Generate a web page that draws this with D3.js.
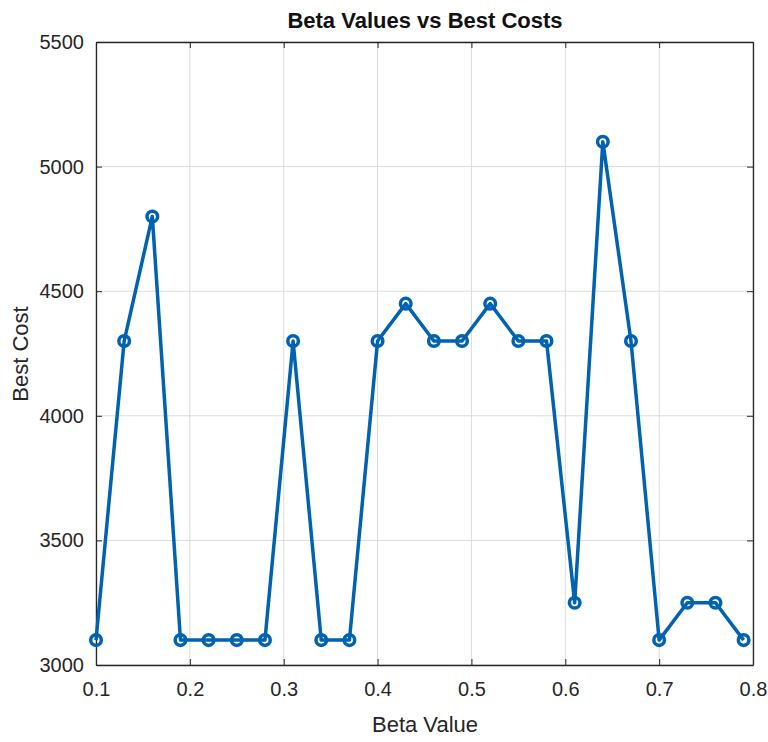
<!DOCTYPE html>
<html>
<head>
<meta charset="utf-8">
<script src="https://cdn.jsdelivr.net/npm/d3@7"></script>
<style>
  html, body { margin: 0; padding: 0; background: #fff; }
  svg { display: block; font-family: "Liberation Sans", Arial, sans-serif; }
</style>
</head>
<body>
<svg id="chart" width="768" height="742"></svg>
<script>
// Beta values and the best cost found at each one
const betaValues = [0.10, 0.13, 0.16, 0.19, 0.22, 0.25, 0.28, 0.31, 0.34, 0.37, 0.40, 0.43,
                    0.46, 0.49, 0.52, 0.55, 0.58, 0.61, 0.64, 0.67, 0.70, 0.73, 0.76, 0.79];
const bestCosts = [3100, 4300, 4800, 3100, 3100, 3100, 3100, 4300, 3100, 3100, 4300, 4450,
                   4300, 4300, 4450, 4300, 4300, 3250, 5100, 4300, 3100, 3250, 3250, 3100];
const xTicks = [0.1, 0.2, 0.3, 0.4, 0.5, 0.6, 0.7, 0.8];
const yTicks = [3000, 3500, 4000, 4500, 5000, 5500];

const svg = d3.select("#chart");
const margin = { left: 96, right: 15, top: 42, bottom: 77 };
const W = 768, H = 742;
const x = d3.scaleLinear().domain([0.1, 0.8]).range([margin.left, W - margin.right]);
const y = d3.scaleLinear().domain([3000, 5500]).range([H - margin.bottom, margin.top]);
const textColor = "#262626";

// grid
const grid = svg.append("g");
grid.selectAll("line.gx").data(xTicks).join("line")
  .attr("x1", d => x(d)).attr("x2", d => x(d))
  .attr("y1", y(3000)).attr("y2", y(5500))
  .attr("stroke", "#dcdcdc").attr("stroke-width", 1);
grid.selectAll("line.gy").data(yTicks).join("line")
  .attr("y1", d => y(d)).attr("y2", d => y(d))
  .attr("x1", x(0.1)).attr("x2", x(0.8))
  .attr("stroke", "#dcdcdc").attr("stroke-width", 1);

// axes (ticks point inward, box on all sides)
const fmtX = d3.format(".1f");
const xAxis = svg.append("g").attr("transform", `translate(0,${y(3000)})`)
  .call(d3.axisBottom(x).tickValues(xTicks).tickFormat(fmtX).tickSizeInner(-6).tickSizeOuter(0).tickPadding(17));
const yAxis = svg.append("g").attr("transform", `translate(${x(0.1)},0)`)
  .call(d3.axisLeft(y).tickValues(yTicks).tickFormat(d3.format("d")).tickSizeInner(-6).tickSizeOuter(0).tickPadding(12));
svg.append("g").attr("transform", `translate(0,${y(5500)})`)
  .call(d3.axisTop(x).tickValues(xTicks).tickFormat("").tickSizeInner(-6).tickSizeOuter(0));
svg.append("g").attr("transform", `translate(${x(0.8)},0)`)
  .call(d3.axisRight(y).tickValues(yTicks).tickFormat("").tickSizeInner(-6).tickSizeOuter(0));

svg.selectAll(".domain").attr("stroke", textColor).attr("stroke-width", 1.3);
svg.selectAll(".tick line").attr("stroke", textColor);
svg.selectAll(".tick text").attr("fill", textColor).attr("font-size", 20);
xAxis.selectAll(".tick text").attr("dy", "0.71em");

// series line
const line = d3.line().x((d, i) => x(betaValues[i])).y(d => y(d));
svg.append("path").datum(bestCosts)
  .attr("d", line)
  .attr("fill", "none")
  .attr("stroke", "#0062b0")
  .attr("stroke-width", 3.5)
  .attr("stroke-linejoin", "round");

// circle markers
svg.selectAll("circle.pt").data(bestCosts).join("circle")
  .attr("class", "pt")
  .attr("cx", (d, i) => x(betaValues[i]))
  .attr("cy", d => y(d))
  .attr("r", 5.3)
  .attr("fill", "none")
  .attr("stroke", "#0062b0")
  .attr("stroke-width", 3.5);

// title and axis labels
svg.append("text")
  .attr("x", 425).attr("y", 28)
  .attr("text-anchor", "middle")
  .attr("font-size", 22).attr("font-weight", "bold").attr("fill", "#111")
  .text("Beta Values vs Best Costs");
svg.append("text")
  .attr("x", 425).attr("y", 732)
  .attr("text-anchor", "middle")
  .attr("font-size", 22).attr("fill", textColor)
  .text("Beta Value");
svg.append("text")
  .attr("transform", `translate(28,354) rotate(-90)`)
  .attr("text-anchor", "middle")
  .attr("font-size", 22).attr("fill", textColor)
  .text("Best Cost");
</script>
</body>
</html>
